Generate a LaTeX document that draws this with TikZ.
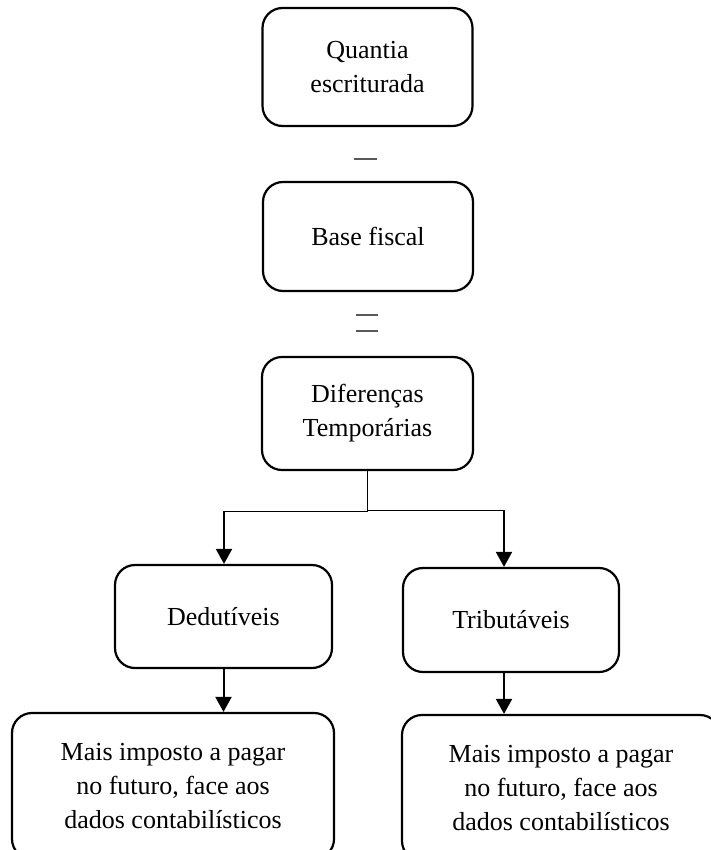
\documentclass[tikz,border=0pt]{standalone}
\usepackage{fontspec}
\setmainfont{Liberation Serif}
\usetikzlibrary{arrows.meta}
\begin{document}
\begin{tikzpicture}[x=1pt,y=-1pt,
    box/.style={draw=black, line width=2.2pt, rounded corners=20pt, align=center,
        inner sep=0pt, font=\fontsize{26}{34}\selectfont},
    thinline/.style={line width=1pt},
    branch/.style={line width=2pt, -{Triangle[length=15pt,width=16pt]}},
    sign/.style={black!65, line width=1.6pt}]
    \useasboundingbox (0,0) rectangle (710,850);
    \node[box, minimum width=210pt, minimum height=118pt] (quantia) at (367.5,67) {Quantia\\escriturada};
    \node[box, minimum width=210pt, minimum height=109pt] (base) at (368,236.5) {Base fiscal};
    \node[box, minimum width=211pt, minimum height=113pt] (difer) at (367.5,413.5) {Diferenças\\Temporárias};
    \node[box, minimum width=217pt, minimum height=103pt] (dedut) at (223.5,616.5) {Dedutíveis};
    \node[box, minimum width=216pt, minimum height=104pt] (tribut) at (511,620) {Tributáveis};
    \node[box, minimum width=322pt, minimum height=146pt] (maisL) at (173,786) {Mais imposto a pagar\\no futuro, face aos\\dados contabilísticos};
    \node[box, minimum width=318pt, minimum height=146pt] (maisR) at (561,788) {Mais imposto a pagar\\no futuro, face aos\\dados contabilísticos};
    \draw[sign] (354,159) -- (377,159);
    \draw[sign] (356,315) -- (378,315);
    \draw[sign] (356,331) -- (378,331);
    \coordinate (lj) at (224,511);
    \coordinate (rj) at (504,510);
    \draw[thinline] (difer.south) |- (lj);
    \draw[thinline] (difer.south) |- (rj);
    \draw[branch] (lj) -- (lj |- dedut.north);
    \draw[branch] (rj) -- (rj |- tribut.north);
    \draw[branch] (dedut.south) -- (dedut.south |- maisL.north);
    \draw[branch] (tribut.south -| rj) -- (rj |- maisR.north);
\end{tikzpicture}
\end{document}
